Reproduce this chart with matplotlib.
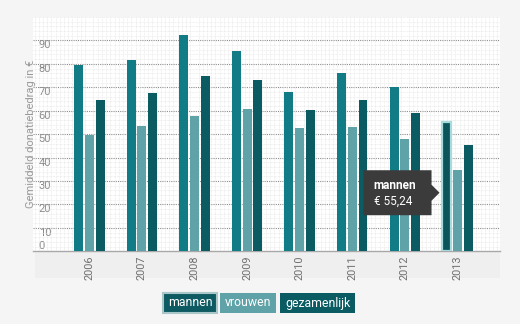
import matplotlib
matplotlib.use("Agg")
import matplotlib.pyplot as plt
import numpy as np
from matplotlib.patches import Rectangle, Polygon
from matplotlib.ticker import MultipleLocator
from matplotlib.transforms import Affine2D

years = ["2006", "2007", "2008", "2009", "2010", "2011", "2012", "2013"]
mannen = [79.6, 81.6, 92.3, 85.7, 68.2, 75.9, 70.3, 55.24]
vrouwen = [49.7, 53.5, 57.7, 60.9, 52.7, 53.0, 48.0, 34.7]
gezamenlijk = [64.7, 67.5, 74.9, 73.3, 60.5, 64.4, 59.1, 45.3]
series_names = ["mannen", "vrouwen", "gezamenlijk"]
yticks = [0, 10, 20, 30, 40, 50, 60, 70, 80, 90]
ylabel = "Gemiddeld donatiebedrag in €"
tooltip_title = "mannen"
tooltip_value = "€ 55,24"
highlight_index = 7

plt.rcParams["font.family"] = ["Roboto", "DejaVu Sans"]

c_m = "#117c86"
c_v = "#5fa2a7"
c_g = "#0b5b63"
c_hi = "#0b545b"

W, H = 520, 324
fig = plt.figure(figsize=(W / 100, H / 100), dpi=100)
fig.patch.set_facecolor("#f5f5f5")

L, R, T, B = 33, 500, 17, 251.3
ax = fig.add_axes([L / W, 1 - B / H, (R - L) / W, (B - T) / H])
ax.set_facecolor("white")
ax.set_zorder(2)

# light band below x axis
fig.patches.append(Rectangle((35 / W, 1 - 278 / H), (R - 35) / W, (278 - B) / H,
                             transform=fig.transFigure, facecolor="#efefef",
                             edgecolor="none", zorder=-1))

x = np.arange(len(years))
bw = 0.17
off = 0.205
ax.bar(x - off, mannen, bw, color=[c_hi if i == highlight_index else c_m for i in range(len(years))],
       zorder=3, label=series_names[0])
ax.bar(x[highlight_index] - off, mannen[highlight_index], bw, facecolor=c_hi,
       edgecolor="#a6dadd", linewidth=1.6, zorder=4)
ax.bar(x, vrouwen, bw, color=c_v, zorder=3, label=series_names[1])
ax.bar(x + off, gezamenlijk, bw, color=c_g, zorder=3, label=series_names[2])

ax.set_xlim(-1.07, 7.81)
ax.set_ylim(0, 100)

# fine dotted background pattern
ax.xaxis.set_minor_locator(MultipleLocator(0.08))
ax.yaxis.set_minor_locator(MultipleLocator(2))
ax.grid(which="minor", color="#e4e4e4", linestyle=(0, (1, 1)), linewidth=0.5, zorder=0)
ax.tick_params(which="minor", length=0)

# major gridlines
for v in yticks[1:]:
    ax.axhline(v, color="#8c8c8c", linestyle=(0, (1, 1)), linewidth=0.8, zorder=1)

for s in ["top", "right", "left"]:
    ax.spines[s].set_visible(False)
ax.spines["bottom"].set_color("#a8a8a8")
ax.spines["bottom"].set_linewidth(1)

ax.set_yticks(yticks)
ax.set_yticklabels([str(v) for v in yticks])
ax.tick_params(axis="y", length=0, pad=-4, labelsize=8, labelcolor="#8a8a8a")
for lab, v in zip(ax.get_yticklabels(), yticks):
    lab.set_horizontalalignment("left")
    lab.set_verticalalignment("bottom" if v == 0 else "top")

ax.set_xticks(x)
ax.set_xticklabels(years, rotation=90, fontsize=7.8, color="#707070")
ax.tick_params(axis="x", length=0, pad=3)

ax.set_ylabel(ylabel, fontsize=8, color="#9a9a9a")
ax.yaxis.set_label_coords(0.006, 0.5)

# tooltip
fig.canvas.draw()
tip_x = x[highlight_index] - off - bw / 2 - 0.05
tip_y = 25
tx, ty = ax.transData.transform((tip_x, tip_y))
tr = Affine2D().translate(tx, ty)
verts = [(-8, -22.5), (-8, -8), (0, 0), (-8, 8), (-8, 22.5), (-76, 22.5), (-76, -22.5)]
fig.patches.append(Polygon(verts, closed=True, transform=tr, facecolor="#3b3b3b",
                           edgecolor="none", zorder=10))
bx = (tx - 66) / W
fig.text(bx, (ty + 7) / H, tooltip_title, color="white", fontsize=8.5,
         fontweight="bold", va="center", ha="left", zorder=11)
fig.text(bx, (ty - 9) / H, tooltip_value, color="white", fontsize=8.5,
         va="center", ha="left", zorder=11)

# legend boxes
leg = [(163, 217, "#0e5a62", series_names[0], True),
       (220, 276, c_v, series_names[1], False),
       (280, 355, c_g, series_names[2], False)]
ly0, ly1 = 293, 313
for x0, x1, col, name, hi in leg:
    fig.patches.append(Rectangle((x0 / W, 1 - ly1 / H), (x1 - x0) / W, (ly1 - ly0) / H,
                                 transform=fig.transFigure, facecolor=col,
                                 edgecolor="#a9c6c9" if hi else "none",
                                 linewidth=1.5 if hi else 0, zorder=5))
    fig.text((x0 + x1) / 2 / W, 1 - (ly0 + ly1) / 2 / H, name, color="white",
             fontsize=8.8, ha="center", va="center", zorder=6)

fig.savefig("out.png", dpi=100, facecolor=fig.get_facecolor())
